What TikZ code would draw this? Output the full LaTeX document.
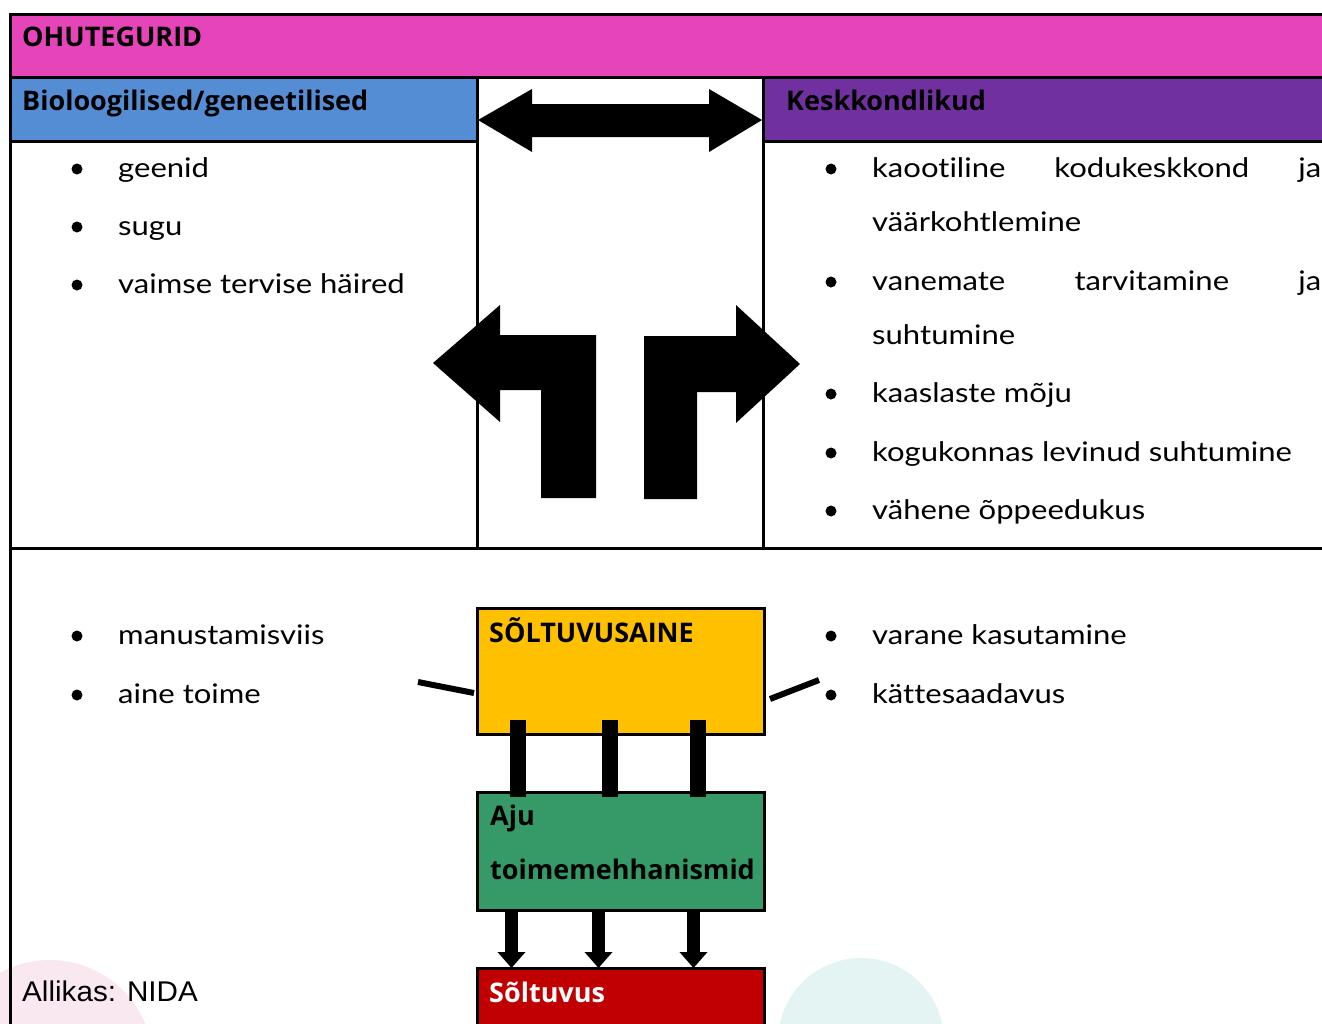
\documentclass[tikz,border=0pt]{standalone}
\usepackage{fontspec}
\setmainfont{Open Sans}
\newfontfamily\mBodyFont[FakeStretch=1.15,Ligatures=NoCommon]{Lato}
\newfontfamily\mSourceFont[FakeStretch=1.04]{Liberation Sans}
\usetikzlibrary{arrows.meta}
\usetikzlibrary{positioning}
\definecolor{mPink}{HTML}{E644B9}
\definecolor{mBlue}{HTML}{548DD4}
\definecolor{mPurple}{HTML}{7030A0}
\definecolor{mYellow}{HTML}{FFC000}
\definecolor{mGreen}{HTML}{359A67}
\definecolor{mRed}{HTML}{C00000}
\definecolor{mRose}{HTML}{F9E8EF}
\definecolor{mMint}{HTML}{E4F4F3}
\newcommand{\mBody}{\mBodyFont\fontsize{27}{32}\selectfont}
\newcommand{\mHead}{\fontsize{27}{32}\selectfont\bfseries}
\newcommand{\mSource}{\mSourceFont\fontsize{28.5}{32}\selectfont}
\newcommand{\mItem}[4]{\fill (#1,#2-8) circle (5.5); \node[itemtext] (#3) at (#1+41,#2) {#4}}
\newcommand{\mLine}[3]{\node[itemtext] (#2) at (872,#1) {#3}}

\begin{document}
\begin{tikzpicture}[x=1pt,y=-1pt,
    cell/.style={line width=3pt},
    headtext/.style={anchor=base west,inner sep=0,font=\mHead},
    itemtext/.style={anchor=base west,inner sep=0,font=\mBody},
    stage/.style={draw,line width=3pt,outer sep=0,inner sep=0,minimum width=287pt},
    bar/.style={line width=16pt},
    flow/.style={line width=13pt,-{Triangle[width=27pt,length=16pt]}},
    tick/.style={line width=6pt}]
    \useasboundingbox (0,0) rectangle (1322,1023);
    \clip (0,0) rectangle (1322,1023);
    % faint circles behind
    \fill[mRose] (50,1063) circle (103);
    \fill[mMint] (861,1041) circle (83);
    % table
    \fill[mPink] (10,14) rectangle (1340,77);
    \fill[mBlue] (10,77) rectangle (477,141);
    \fill[mPurple] (763,77) rectangle (1340,141);
    \draw[cell] (1340,14) -- (10,14) -- (10,1040);
    \draw[cell] (10,77) -- (1340,77);
    \draw[cell] (10,141) -- (477,141);
    \draw[cell] (763,141) -- (1340,141);
    \draw[cell] (477,77) -- (477,548);
    \draw[cell] (763,77) -- (763,548);
    \draw[cell] (10,548) -- (1340,548);
    \node[headtext] (hazards) at (22,46) {OHUTEGURID};
    \node[headtext] (bio) at (22,110) {Bioloogilised/geneetilised};
    \node[headtext] (env) at (786,110) {Keskkondlikud};
    % left column
    \mItem{77}{177}{genes}{geenid};
    \mItem{77}{235}{sex}{sugu};
    \mItem{77}{293}{mental}{vaimse tervise häired};
    % right column
    \mItem{831}{177}{home}{\makebox[449pt][s]{kaootiline kodukeskkond ja}};
    \mLine{231}{home2}{väärkohtlemine};
    \mItem{831}{290}{parents}{\makebox[449pt][s]{vanemate tarvitamine ja}};
    \mLine{344}{parents2}{suhtumine};
    \mItem{831}{402}{peers}{kaaslaste mõju};
    \mItem{831}{461}{community}{kogukonnas levinud suhtumine};
    \mItem{831}{519}{school}{vähene õppeedukus};
    % arrows in the middle cell
    \fill (478,120) -- (532,89) -- (532,104) -- (709,104) -- (709,89) -- (762,120)
        -- (709,152) -- (709,137) -- (532,137) -- (532,152) -- cycle;
    \fill (433,363) -- (500,305) -- (500,335) -- (596,335) -- (596,498) -- (541,498)
        -- (541,390) -- (500,390) -- (500,422) -- cycle;
    \fill (644,336) -- (736,336) -- (736,305) -- (800,364) -- (736,423) -- (736,392)
        -- (697,392) -- (697,499) -- (644,499) -- cycle;
    % lower part
    \mItem{77}{644}{route}{manustamisviis};
    \mItem{77}{703}{effect}{aine toime};
    \mItem{831}{644}{early}{varane kasutamine};
    \mItem{831}{703}{access}{kättesaadavus};
    \node[stage,fill=mYellow,minimum height=126pt] (sub) at (620.5,671) {};
    \node[stage,fill=mGreen,minimum height=118pt] (brain) at (620.5,851) {};
    \node[stage,fill=mRed,minimum height=110pt] (dep) at (620.5,1023) {};
    \node[headtext] (subname) at (489,642) {SÕLTUVUSAINE};
    \node[headtext] (brainname) at (490,825) {Aju};
    \node[headtext] (brainname2) at (490,879) {toimemehhanismid};
    \node[headtext,text=white] (depname) at (489,1002) {Sõltuvus};
    \foreach \dx in {-103,-11,77}
        \draw[bar] ([xshift=\dx pt,yshift=14pt]sub.south) -- ([xshift=\dx pt,yshift=-5pt]brain.north);
    \foreach \dx in {-109,-22,73}
        \draw[flow] ([xshift=\dx pt]brain.south) -- ([xshift=\dx pt]dep.north);
    \coordinate (tickL) at (418,682);
    \coordinate (tickR) at (819,680);
    \draw[tick] (tickL) -- ([xshift=-3pt,yshift=-22pt]sub.west);
    \draw[tick] ([xshift=6pt,yshift=-28pt]sub.east) -- (tickR);
    \node[itemtext,font=\mSource] (source) at (22,1001) {Allikas: NIDA};
\end{tikzpicture}
\end{document}
